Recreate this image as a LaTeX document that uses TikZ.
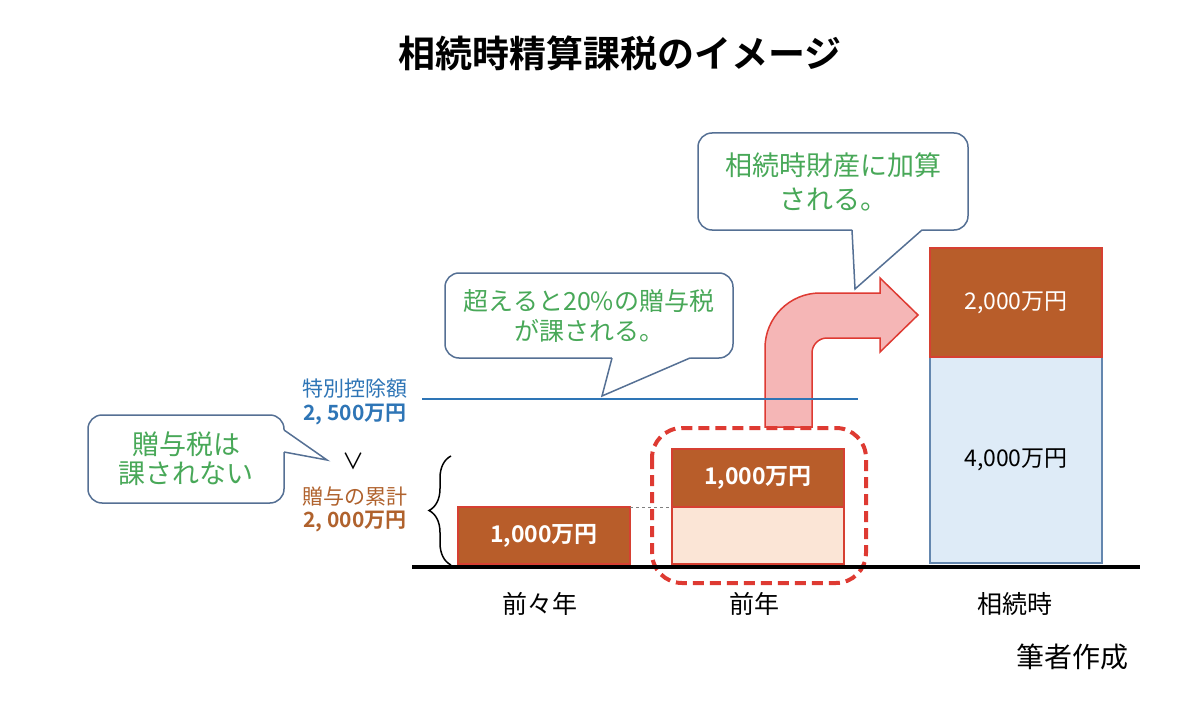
\documentclass[tikz,border=0pt]{standalone}
\usepackage{fontspec}
\setmainfont{Noto Sans CJK JP}[BoldFont={Noto Sans CJK JP Bold}]
\usetikzlibrary{positioning,calc,decorations.pathreplacing}

\definecolor{barbrown}{RGB}{184,93,42}
\definecolor{barred}{RGB}{214,64,50}
\definecolor{barpeach}{RGB}{251,229,214}
\definecolor{barblue}{RGB}{222,235,247}
\definecolor{bluedge}{RGB}{100,135,175}
\definecolor{lineblue}{RGB}{46,117,182}
\definecolor{txtgreen}{RGB}{72,168,88}
\definecolor{txtbrown}{RGB}{176,98,45}
\definecolor{calloutedge}{RGB}{85,112,148}
\definecolor{arrowpink}{RGB}{245,182,182}
\definecolor{arrowred}{RGB}{222,58,50}

\newcommand{\fsz}[2]{\fontsize{#1}{#2}\selectfont}

\tikzset{
  callout/.style={draw=calloutedge, line width=1.5pt, fill=white, rounded corners=14pt,
    align=center, text=txtgreen, inner sep=0pt},
  tailline/.style={draw=calloutedge, line width=1.5pt, line join=miter},
  bar/.style={draw=barred, line width=1.2pt, inner sep=0pt, outer sep=0pt, minimum width=172},
  barval/.style={font=\fsz{23pt}{26pt}},
  barvalbold/.style={font=\fsz{23pt}{26pt}\bfseries},
  yearlabel/.style={font=\fsz{25pt}{28pt}},
}

\begin{document}
\begin{tikzpicture}[x=1pt, y=-1pt, >=stealth]

  \fill[white] (0,0) rectangle (1200,706);
  \useasboundingbox (0,0) rectangle (1200,706);

  % ==========================================
  % タイトル
  % ==========================================
  \node[font=\fsz{37pt}{40pt}\bfseries] (title) at (620,53) {相続時精算課税のイメージ};

  % ==========================================
  % 矢印（前年 -> 相続時）と点線の枠
  % ==========================================
  \filldraw[fill=arrowpink, draw=arrowred, line width=1.5pt]
    (765,427) -- (765,348) arc[start angle=180, end angle=270, radius=55]
    -- (880,293) -- (880,278) -- (918,315) -- (880,352) -- (880,338)
    -- (827,338) arc[start angle=270, end angle=180, radius=15]
    -- (812,427) -- cycle;
  \draw[arrowred, line width=4pt, dash pattern=on 11pt off 6pt, rounded corners=30pt]
    (652,428) rectangle (866,583);

  % 特別控除額の線
  \coordinate (lim_l) at (422,399);
  \coordinate (lim_r) at (858,399);
  \draw[lineblue, line width=2pt] (lim_l) -- (lim_r);

  % ==========================================
  % 棒グラフ
  % ==========================================
  \node[bar, fill=barbrown, minimum height=57, anchor=north west, text=white, barvalbold]
    (b1) at (458,507) {1,000万円};

  \node[bar, fill=barpeach, minimum height=57, anchor=south west] (b2low) at (672,564) {};
  \node[bar, fill=barbrown, minimum height=58, above=0pt of b2low, text=white, barvalbold]
    (b2top) {1,000万円};

  \node[bar, draw=bluedge, fill=barblue, minimum height=206, anchor=south west, barval]
    (b3low) at (930,563) {4,000万円};
  \node[bar, fill=barbrown, minimum height=109, above=0pt of b3low, text=white, barval]
    (b3top) {2,000万円};

  \draw[gray, dashed, line width=1pt] (b1.north east) -- (b2low.north west);

  % 横軸
  \coordinate (axis_l) at (412,567);
  \coordinate (axis_r) at (1140,567);
  \draw[line width=4pt] (axis_l) -- (axis_r);

  \node[yearlabel] (y1) at (540,604) {前々年};
  \node[yearlabel] (y2) at (754,604) {前年};
  \node[yearlabel] (y3) at (1015,604) {相続時};

  % ==========================================
  % 左側の説明
  % ==========================================
  \node[text=lineblue, font=\fsz{21pt}{24pt}] (lim) at (355,389) {特別控除額};
  \node[text=lineblue, font=\fsz{21pt}{24pt}\bfseries] (limval) at (355,414) {2, 500万円};
  \node[font=\fsz{22pt}{24pt}] (gt) at (353,461) {∨};
  \node[text=txtbrown, font=\fsz{21pt}{24pt}] (sum) at (355,497) {贈与の累計};
  \node[text=txtbrown, font=\fsz{21pt}{24pt}\bfseries] (sumval) at (355,521) {2, 000万円};

  \coordinate (br_b) at (451,565);
  \coordinate (br_t) at (451,456);
  \draw[decorate, decoration={brace, amplitude=22pt}, line width=1.5pt] (br_b) -- (br_t);

  % ==========================================
  % 吹き出し
  % ==========================================
  \node[callout, minimum width=196, minimum height=88, font=\fsz{27pt}{29pt}] (c1) at (186,459)
    {贈与税は\\課されない};
  \coordinate (c1a) at (284,430);
  \coordinate (c1b) at (284,452);
  \coordinate (c1tip) at (327,460);
  \fill[white] (c1a) -- (c1tip) -- (c1b) -- ($(c1b)+(-2,0)$) -- ($(c1a)+(-2,0)$) -- cycle;
  \draw[tailline] (c1a) -- (c1tip) -- (c1b);

  \node[callout, minimum width=288, minimum height=85, font=\fsz{25pt}{30pt}] (c2) at (589,315.5)
    {超えると20\%の贈与税\\が課される。};
  \coordinate (c2a) at (612,358);
  \coordinate (c2b) at (690,358);
  \coordinate (c2tip) at (602,396);
  \fill[white] (c2a) -- (c2tip) -- (c2b) -- ($(c2b)+(0,-2)$) -- ($(c2a)+(0,-2)$) -- cycle;
  \draw[tailline] (c2a) -- (c2tip) -- (c2b);

  \node[callout, minimum width=270, minimum height=97, font=\fsz{27pt}{34pt}] (c3) at (833,181.5)
    {相続時財産に加算\\される。};
  \coordinate (c3a) at (852,230);
  \coordinate (c3b) at (922,230);
  \coordinate (c3tip) at (855,289);
  \fill[white] (c3a) -- (c3tip) -- (c3b) -- ($(c3b)+(0,-2)$) -- ($(c3a)+(0,-2)$) -- cycle;
  \draw[tailline] (c3a) -- (c3tip) -- (c3b);

  % 出典
  \node[font=\fsz{28pt}{30pt}] (src) at (1072,657) {筆者作成};

\end{tikzpicture}
\end{document}
